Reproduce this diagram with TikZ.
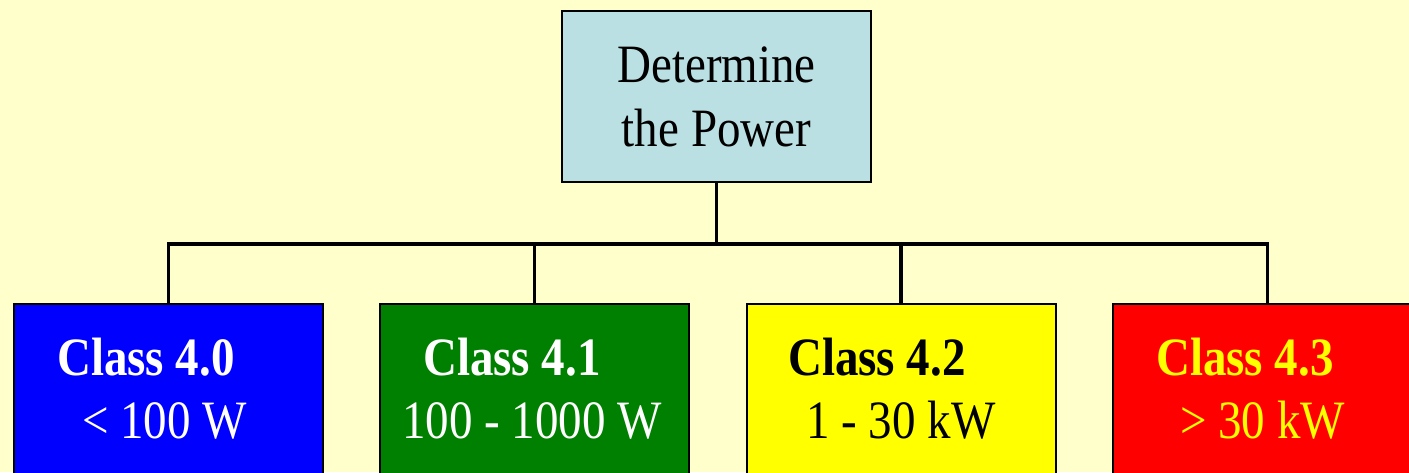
\documentclass[tikz,border=0pt]{standalone}
\usepackage{fontspec}
\setmainfont[FakeStretch=0.87]{Liberation Serif}
\definecolor{bgyellow}{HTML}{FFFFCC}
\definecolor{topblue}{HTML}{BBE0E3}
\definecolor{clsblue}{HTML}{0000FF}
\definecolor{clsgreen}{HTML}{008000}
\definecolor{clsyellow}{HTML}{FFFF00}
\definecolor{clsred}{HTML}{FF0000}
\tikzset{
  box/.style={draw=black, line width=2pt, rectangle, inner sep=0pt,
    minimum width=309pt, minimum height=220pt},
  headbox/.style={box, fill=topblue, minimum height=171pt},
  conn/.style={draw=black, line width=3.4pt, line join=miter},
  lbl/.style={anchor=base west, inner sep=0pt, font=\fontsize{54}{64}\selectfont},
  ctr/.style={anchor=base, inner sep=0pt, font=\fontsize{54}{64}\selectfont},
}
\begin{document}
\begin{tikzpicture}[x=1pt, y=-1pt]
  \clip (0,0) rectangle (1409,472);
  \fill[bgyellow] (0,0) rectangle (1409,472);

  % head box
  \node[headbox] (top) at (716.5,96.2) {};
  \node[ctr] (t1) at (716.5,82) {Determine};
  \node[ctr] (t2) at (716.5,146) {the Power};

  % class boxes (run past the lower edge)
  \node[box, fill=clsblue,   anchor=north west] (c0) at (12.7,303.3) {};
  \node[box, fill=clsgreen,  anchor=north west] (c1) at (379.2,303.3) {};
  \node[box, fill=clsyellow, anchor=north west] (c2) at (745.5,303.3) {};
  \node[box, fill=clsred,    anchor=north west] (c3) at (1112,303.3) {};

  % bus of the tree
  \coordinate (bt) at (top.south |- 0,244);
  \coordinate (b0) at (c0.north |- 0,244);
  \coordinate (b1) at (c1.north |- 0,244);
  \coordinate (b2) at (c2.north |- 0,244);
  \coordinate (b3) at (c3.north |- 0,244);
  \draw[conn] (top.south) -- (bt);
  \draw[conn] (c0.north) -- (b0) -- (b3) -- (c3.north);
  \draw[conn] (c1.north) -- (b1);
  \draw[conn] (c2.north) -- (b2);

  % labels
  \node[lbl, text=white] (l0a) at (57,375) {\bfseries Class 4.0};
  \node[lbl, text=white] (l0b) at (82,438) {< 100 W};
  \node[lbl, text=white] (l1a) at (423,375) {\bfseries Class 4.1};
  \node[lbl, text=white] (l1b) at (402,438) {100 - 1000 W};
  \node[lbl, text=black] (l2a) at (788,375) {\bfseries Class 4.2};
  \node[lbl, text=black] (l2b) at (806,438) {1 - 30 kW};
  \node[lbl, text=clsyellow] (l3a) at (1156,375) {\bfseries Class 4.3};
  \node[lbl, text=clsyellow] (l3b) at (1180,438) {> 30 kW};
\end{tikzpicture}
\end{document}
